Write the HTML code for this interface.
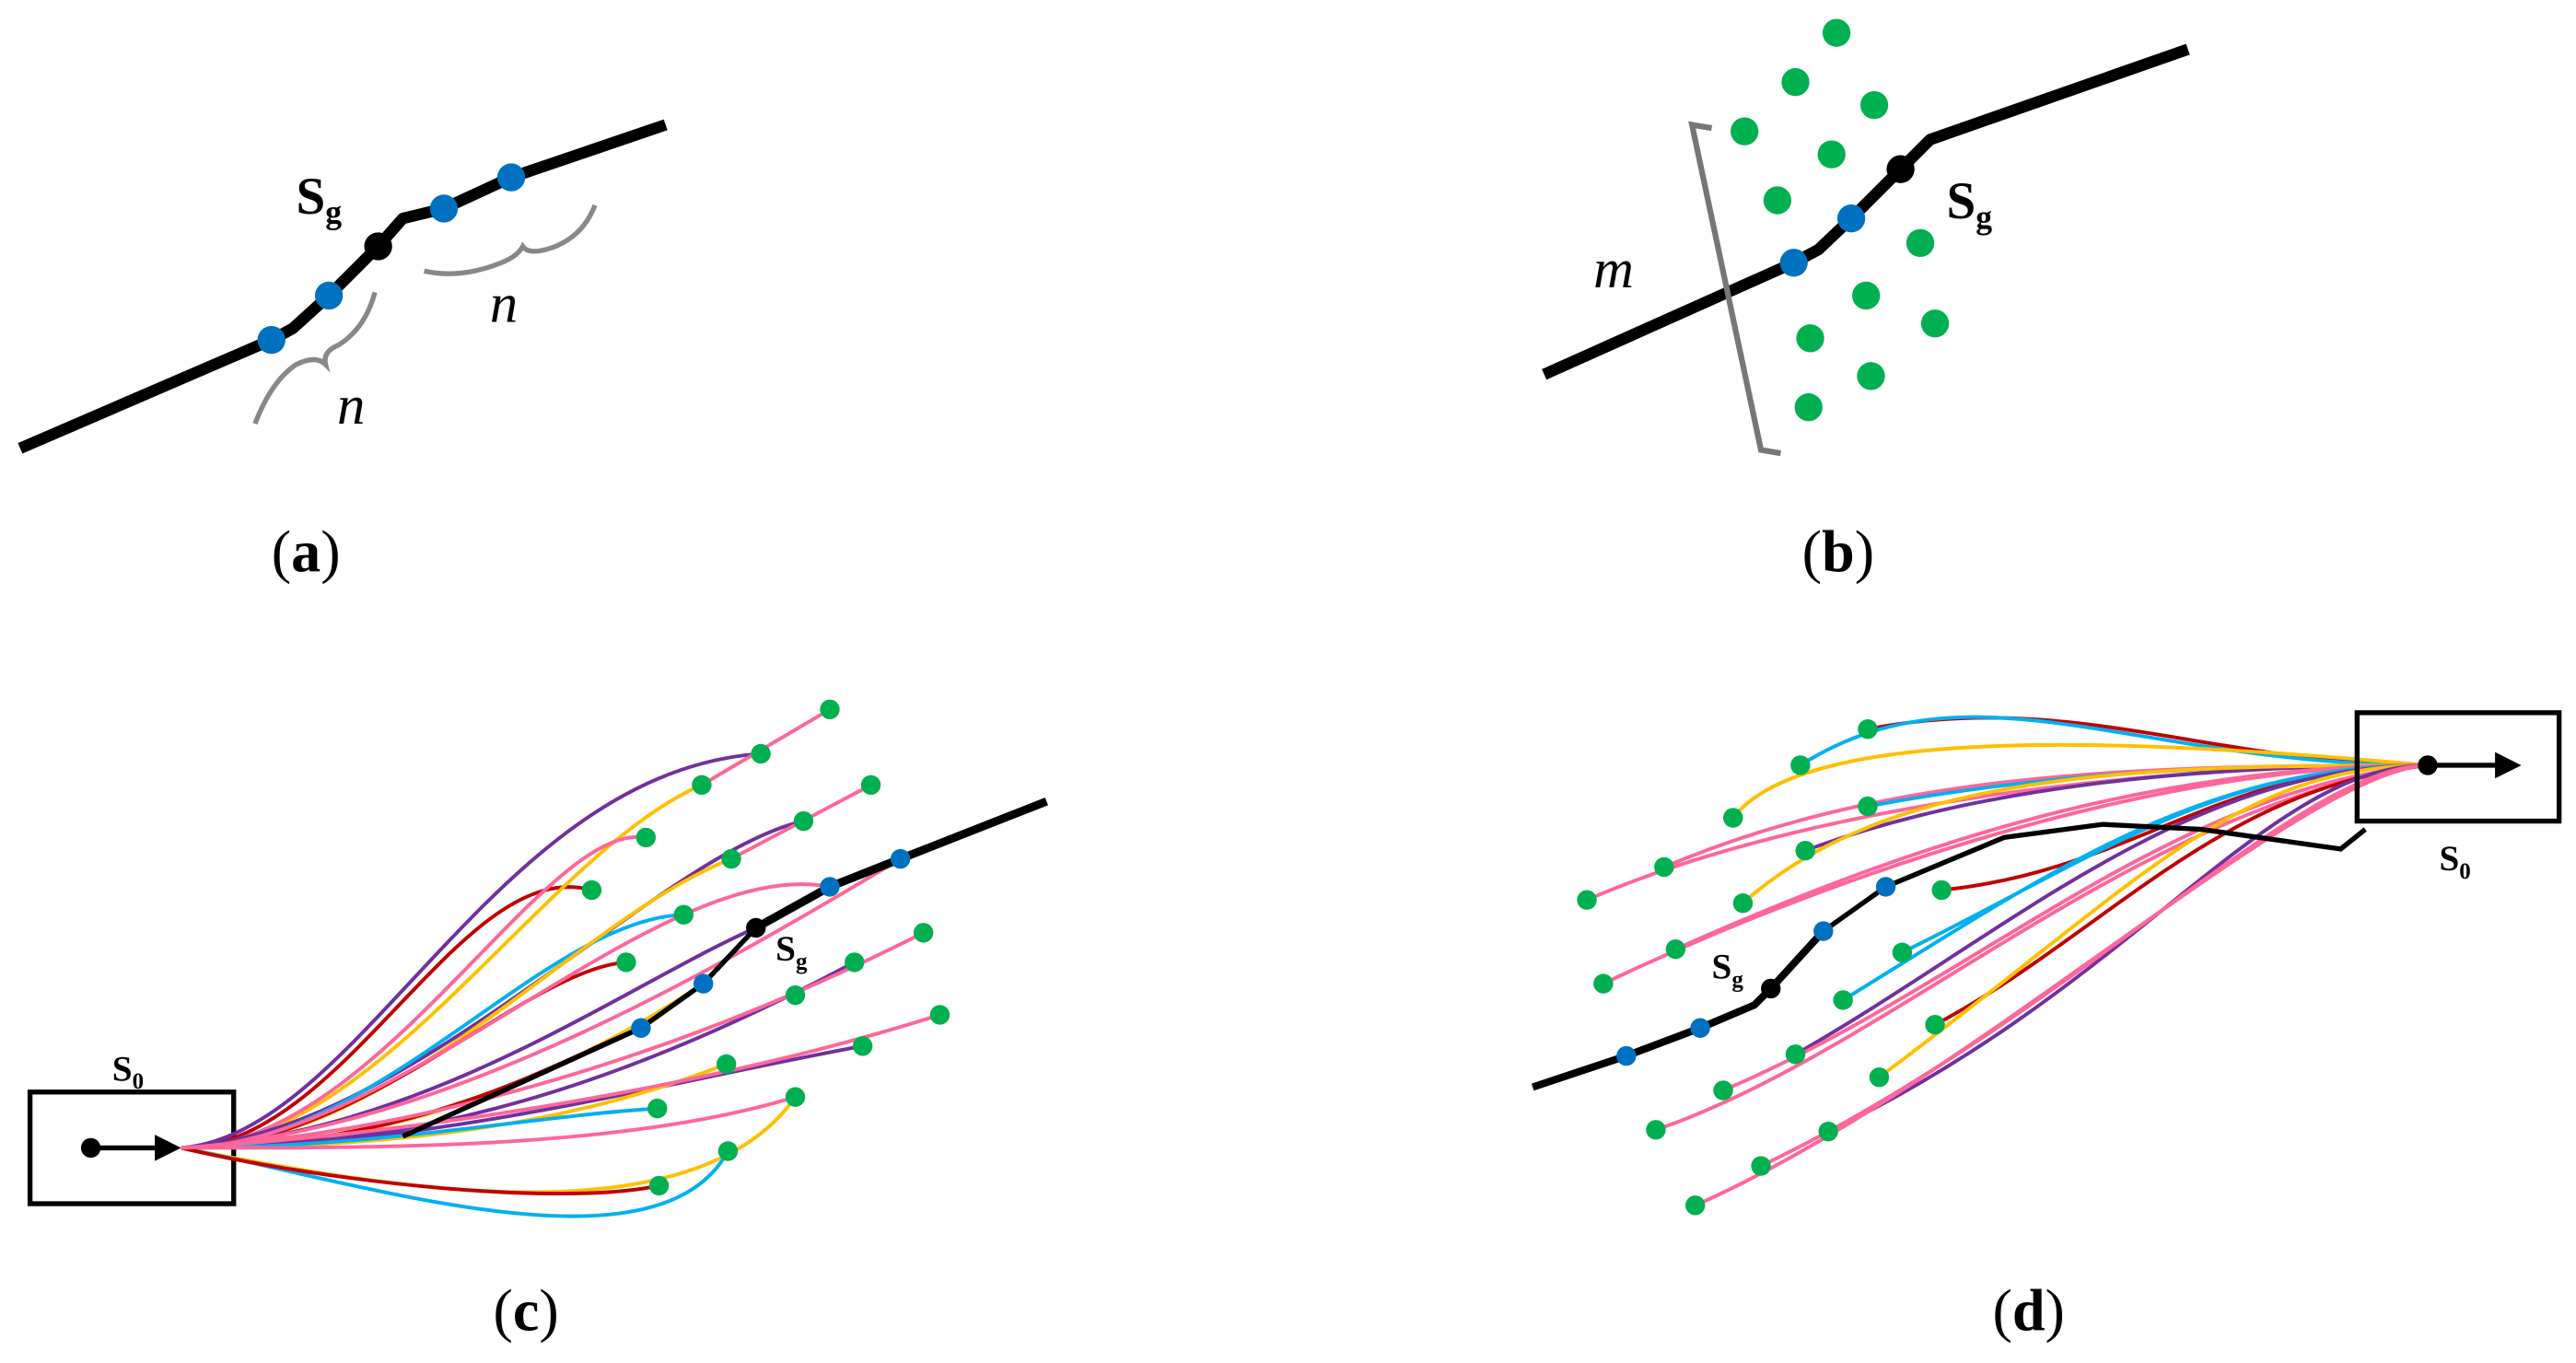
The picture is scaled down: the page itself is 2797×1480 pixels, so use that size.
<!DOCTYPE html>
<html><head><meta charset="utf-8"><style>html,body{margin:0;padding:0;background:#fff}svg{display:block}</style></head>
<body>
<svg width="2797" height="1480" viewBox="0 0 1568 830" xmlns="http://www.w3.org/2000/svg" font-family="Liberation Serif, serif">
<rect width="1568" height="830" fill="#fff"/>
<!-- (a) -->
<polyline points="12,273 165,207 178,200 200,180 230,150 245,133 270,127 311,108 405,76" fill="none" stroke="#000" stroke-width="7" stroke-linejoin="round"/>
<g fill="#0070c0"><circle cx="165" cy="207" r="8.5"/><circle cx="200" cy="180" r="8.5"/><circle cx="270" cy="127" r="8.5"/><circle cx="311" cy="108" r="8.5"/></g>
<circle cx="230" cy="150" r="8.5" fill="#000"/>
<text x="180" y="130" font-size="32" font-weight="bold">S<tspan font-size="20" dy="6">g</tspan></text>
<path d="M228,178 Q222,200 206,210 Q196,214 198,222 Q192,216 180,222 Q165,232 155,258" fill="none" stroke="#888" stroke-width="3"/>
<path d="M258,165 Q280,170 305,160 Q315,156 318,150 Q322,156 338,150 Q355,143 362,125" fill="none" stroke="#888" stroke-width="3"/>
<text x="298" y="196" font-size="34" font-style="italic">n</text>
<text x="205" y="258" font-size="34" font-style="italic">n</text>
<text x="165" y="348" font-size="36">(<tspan font-weight="bold">a</tspan>)</text>
<!-- (b) -->
<polyline points="940,228 1092,160 1107,152 1127,133 1157,103 1175,85 1332,30" fill="none" stroke="#000" stroke-width="7" stroke-linejoin="round"/>
<g fill="#00b050"><circle cx="1118" cy="20" r="8.5"/><circle cx="1093" cy="50" r="8.5"/><circle cx="1141" cy="64" r="8.5"/><circle cx="1062" cy="80" r="8.5"/><circle cx="1115" cy="94" r="8.5"/><circle cx="1082" cy="122" r="8.5"/><circle cx="1169" cy="148" r="8.5"/><circle cx="1136" cy="180" r="8.5"/><circle cx="1102" cy="206" r="8.5"/><circle cx="1178" cy="197" r="8.5"/><circle cx="1139" cy="229" r="8.5"/><circle cx="1101" cy="248" r="8.5"/></g>
<g fill="#0070c0"><circle cx="1092" cy="160" r="8.5"/><circle cx="1127" cy="133" r="8.5"/></g>
<circle cx="1157" cy="103" r="8.5" fill="#000"/>
<text x="1185" y="133" font-size="32" font-weight="bold">S<tspan font-size="20" dy="6">g</tspan></text>
<path d="M1042,78 L1030,76 L1072,274 L1084,276" fill="none" stroke="#777" stroke-width="3.5"/>
<text x="970" y="175" font-size="34" font-style="italic">m</text>
<text x="1097" y="348" font-size="36">(<tspan font-weight="bold">b</tspan>)</text>
<!-- (c) -->
<rect x="18" y="665" width="124" height="68" fill="none" stroke="#000" stroke-width="3"/>
<g fill="none" stroke-width="2.2">
<path d="M110,699 C210,699 280,520 360,542" stroke="#c00000"/>
<path d="M110,699 C220,690 300,470 463,459" stroke="#7030a0"/>
<path d="M110,699 C230,699 330,520 427,478" stroke="#ffc000"/>
<path d="M110,699 C230,699 330,500 393,510" stroke="#ff6699"/>
<path d="M110,699 C250,690 400,520 489,500" stroke="#7030a0"/>
<path d="M110,699 C230,699 330,560 416,557" stroke="#00b0f0"/>
<path d="M110,699 C240,699 350,560 445,523" stroke="#ffc000"/>
<path d="M110,699 C220,699 320,590 381,586" stroke="#c00000"/>
<path d="M110,699 C260,690 380,600 460,565" stroke="#7030a0"/>
<path d="M110,699 C250,699 350,650 428,599" stroke="#ffc000"/>
<path d="M110,699 C260,699 350,640 390,626" stroke="#c00000"/>
<path d="M110,699 C260,699 380,660 520,586" stroke="#7030a0"/>
<path d="M110,699 C260,699 400,660 525,637" stroke="#7030a0"/>
<path d="M110,699 C260,699 360,680 442,648" stroke="#ffc000"/>
<path d="M110,699 C230,699 320,680 400,675" stroke="#00b0f0"/>
<path d="M110,699 C230,699 380,700 484,668" stroke="#ff6699"/>
<path d="M110,699 C220,720 420,760 484,668" stroke="#ffc000"/>
<path d="M110,699 C220,720 400,780 443,701" stroke="#00b0f0"/>
<path d="M110,699 C200,720 340,735 401,722" stroke="#c00000"/>
<path d="M110,699 C240,699 400,520 505,540" stroke="#ff6699"/>
<path d="M110,699 C260,690 420,600 548,523" stroke="#ff6699"/>
<path d="M110,699 C260,690 420,640 562,568" stroke="#ff6699"/>
<path d="M110,699 C260,690 440,660 572,618" stroke="#ff6699"/>
</g>
<g stroke="#ff6699" stroke-width="2.2">
<line x1="505" y1="432" x2="427" y2="478"/>
<line x1="530" y1="478" x2="445" y2="523"/>
</g>
<polyline points="245,692 390,626 428,599 460,565" fill="none" stroke="#000" stroke-width="3"/>
<polyline points="460,565 505,540 548,523 637,488" fill="none" stroke="#000" stroke-width="5"/>
<g fill="#00b050"><circle cx="505" cy="432" r="6"/><circle cx="463" cy="459" r="6"/><circle cx="427" cy="478" r="6"/><circle cx="393" cy="510" r="6"/><circle cx="360" cy="542" r="6"/><circle cx="530" cy="478" r="6"/><circle cx="489" cy="500" r="6"/><circle cx="445" cy="523" r="6"/><circle cx="416" cy="557" r="6"/><circle cx="381" cy="586" r="6"/><circle cx="562" cy="568" r="6"/><circle cx="520" cy="586" r="6"/><circle cx="484" cy="606" r="6"/><circle cx="442" cy="648" r="6"/><circle cx="400" cy="675" r="6"/><circle cx="572" cy="618" r="6"/><circle cx="525" cy="637" r="6"/><circle cx="484" cy="668" r="6"/><circle cx="443" cy="701" r="6"/><circle cx="401" cy="722" r="6"/></g>
<g fill="#0070c0"><circle cx="390" cy="626" r="6"/><circle cx="428" cy="599" r="6"/><circle cx="505" cy="540" r="6"/><circle cx="548" cy="523" r="6"/></g>
<circle cx="460" cy="565" r="6" fill="#000"/>
<text x="472" y="585" font-size="22" font-weight="bold">S<tspan font-size="14" dy="5">g</tspan></text>
<line x1="55" y1="699" x2="100" y2="699" stroke="#000" stroke-width="3"/>
<polygon points="110,699 94,691 94,707" fill="#000"/>
<circle cx="55" cy="699" r="6" fill="#000"/>
<text x="68" y="658" font-size="22" font-weight="bold">S<tspan font-size="14" dy="5">0</tspan></text>
<text x="300" y="810" font-size="36">(<tspan font-weight="bold">c</tspan>)</text>
<!-- (d) -->
<g fill="none" stroke-width="2.2">
<path d="M1478,466 C1350,466 1260,420 1137,444" stroke="#c00000"/>
<path d="M1478,466 C1300,466 1200,400 1096,466" stroke="#00b0f0"/>
<path d="M1478,466 C1300,450 1100,440 1055,498" stroke="#ffc000"/>
<path d="M1478,466 C1300,466 1150,470 1013,528" stroke="#ff6699"/>
<path d="M1478,466 C1300,466 1100,490 966,548" stroke="#ff6699"/>
<path d="M1478,466 C1350,466 1250,470 1137,491" stroke="#00b0f0"/>
<path d="M1478,466 C1330,466 1200,480 1099,518" stroke="#7030a0"/>
<path d="M1478,466 C1300,466 1150,470 1061,550" stroke="#ffc000"/>
<path d="M1478,466 C1300,466 1150,520 1020,578" stroke="#ff6699"/>
<path d="M1478,466 C1300,466 1100,540 976,599" stroke="#ff6699"/>
<path d="M1478,466 C1350,466 1300,530 1182,542" stroke="#c00000"/>
<path d="M1478,466 C1350,466 1280,520 1158,580" stroke="#00b0f0"/>
<path d="M1478,466 C1340,466 1250,530 1122,609" stroke="#00b0f0"/>
<path d="M1478,466 C1330,466 1220,570 1093,642" stroke="#7030a0"/>
<path d="M1478,466 C1320,480 1200,600 1049,664" stroke="#ff6699"/>
<path d="M1478,466 C1300,490 1150,640 1008,688" stroke="#ff6699"/>
<path d="M1478,466 C1350,480 1280,570 1178,624" stroke="#c00000"/>
<path d="M1478,466 C1360,466 1300,540 1144,656" stroke="#ffc000"/>
<path d="M1478,466 C1380,466 1300,600 1113,689" stroke="#7030a0"/>
<path d="M1478,466 C1400,466 1260,620 1072,710" stroke="#ff6699"/>
<path d="M1478,466 C1400,470 1200,660 1032,734" stroke="#ff6699"/>
</g>
<polyline points="1110,567 1148,540 1220,510 1280,502 1340,505 1425,517 1440,505" fill="none" stroke="#000" stroke-width="3"/>
<polyline points="933,662 990,643 1035,626 1068,612 1078,602 1110,567" fill="none" stroke="#000" stroke-width="4.5"/>
<rect x="1435" y="434" width="123" height="66" fill="none" stroke="#000" stroke-width="3"/>
<g fill="#00b050"><circle cx="1137" cy="444" r="6"/><circle cx="1096" cy="466" r="6"/><circle cx="1055" cy="498" r="6"/><circle cx="1013" cy="528" r="6"/><circle cx="966" cy="548" r="6"/><circle cx="1137" cy="491" r="6"/><circle cx="1099" cy="518" r="6"/><circle cx="1061" cy="550" r="6"/><circle cx="1020" cy="578" r="6"/><circle cx="976" cy="599" r="6"/><circle cx="1182" cy="542" r="6"/><circle cx="1158" cy="580" r="6"/><circle cx="1122" cy="609" r="6"/><circle cx="1093" cy="642" r="6"/><circle cx="1049" cy="664" r="6"/><circle cx="1008" cy="688" r="6"/><circle cx="1178" cy="624" r="6"/><circle cx="1144" cy="656" r="6"/><circle cx="1113" cy="689" r="6"/><circle cx="1072" cy="710" r="6"/><circle cx="1032" cy="734" r="6"/></g>
<g fill="#0070c0"><circle cx="990" cy="643" r="6"/><circle cx="1035" cy="626" r="6"/><circle cx="1110" cy="567" r="6"/><circle cx="1148" cy="540" r="6"/></g>
<circle cx="1078" cy="602" r="6" fill="#000"/>
<text x="1042" y="596" font-size="22" font-weight="bold">S<tspan font-size="14" dy="5">g</tspan></text>
<line x1="1478" y1="466" x2="1523" y2="466" stroke="#000" stroke-width="3"/>
<polygon points="1535,466 1519,458 1519,474" fill="#000"/>
<circle cx="1478" cy="466" r="6" fill="#000"/>
<text x="1485" y="530" font-size="22" font-weight="bold">S<tspan font-size="14" dy="5">0</tspan></text>
<text x="1213" y="810" font-size="36">(<tspan font-weight="bold">d</tspan>)</text>
</svg>
</body></html>
